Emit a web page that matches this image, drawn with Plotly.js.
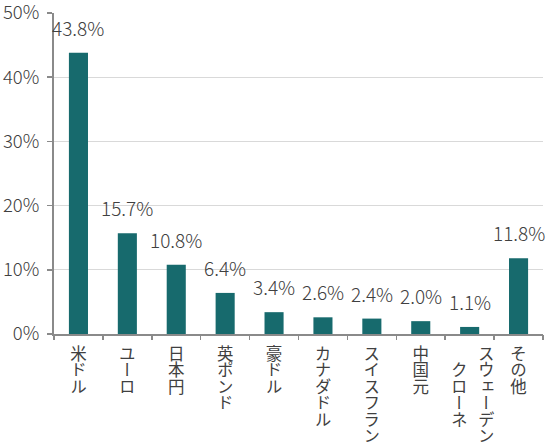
<!DOCTYPE html>
<html>
<head>
<meta charset="utf-8">
<script src="https://cdn.plot.ly/plotly-3.0.1.min.js"></script>
<style>
  html, body { margin: 0; padding: 0; background: #ffffff; }
  #chart { width: 550px; height: 445px; }
</style>
</head>
<body>
<div id="chart"></div>
<script>
// ---- data ----
const categories = ["米ドル", "ユーロ", "日本円", "英ポンド", "豪ドル", "カナダドル", "スイスフラン", "中国元", "スウェーデン<br>クローネ", "その他"];
const shares = [43.8, 15.7, 10.8, 6.4, 3.4, 2.6, 2.4, 2.0, 1.1, 11.8];
const yTickValues = [0, 10, 20, 30, 40, 50];
const yTickLabels = ["0%", "10%", "20%", "30%", "40%", "50%"];

// ---- style ----
const FONT = '"Noto Sans CJK JP", "Noto Sans", sans-serif';
const TEXT_COLOR = '#404040';
const BAR_COLOR = '#176a6d';
const AXIS_COLOR = '#8a8a8a';
const LABEL_FS = 16.5;
const LABEL_TOP = 345;

const xIdx = categories.map((c, i) => i);

const data = [{
  type: 'bar',
  x: xIdx,
  y: shares,
  marker: { color: BAR_COLOR, line: { width: 0 } },
  hoverinfo: 'none'
}];

const annotations = shares.map((v, i) => ({
  x: xIdx[i],
  y: v,
  xref: 'x',
  yref: 'y',
  text: v.toFixed(1) + '%',
  showarrow: false,
  xanchor: 'center',
  yanchor: 'bottom',
  yshift: 10,
  font: { family: FONT, size: 19, color: TEXT_COLOR, weight: 300 }
}));

const layout = {
  width: 550,
  height: 445,
  margin: { l: 54, r: 7, t: 13, b: 111, pad: 0 },
  paper_bgcolor: '#ffffff',
  plot_bgcolor: '#ffffff',
  showlegend: false,
  bargap: 0.61,
  font: { family: FONT, color: TEXT_COLOR },
  xaxis: {
    type: 'linear',
    range: [-0.5, categories.length - 0.5],
    tickmode: 'array',
    tickvals: xIdx,
    ticktext: categories,
    tickangle: 0,
    ticklabeloverflow: 'allow',
    showgrid: false,
    zeroline: false,
    showline: true,
    linecolor: AXIS_COLOR,
    linewidth: 2,
    ticks: '',
    tickfont: { family: FONT, size: LABEL_FS, color: TEXT_COLOR },
    fixedrange: true
  },
  xaxis2: {
    overlaying: 'x',
    matches: 'x',
    range: [-0.5, categories.length - 0.5],
    tickmode: 'array',
    tickvals: xIdx.map(i => i - 0.5).concat([categories.length - 0.5]),
    showticklabels: false,
    ticks: 'outside',
    ticklen: 5,
    tickwidth: 1.5,
    tickcolor: AXIS_COLOR,
    side: 'bottom',
    showgrid: false,
    zeroline: false,
    showline: false,
    anchor: 'y'
  },
  yaxis: {
    range: [0, 50],
    tickmode: 'array',
    tickvals: yTickValues,
    ticktext: yTickLabels,
    ticklabeloverflow: 'allow',
    showgrid: true,
    gridcolor: '#d9d9d9',
    gridwidth: 1,
    zeroline: false,
    showline: true,
    linecolor: AXIS_COLOR,
    linewidth: 2,
    ticks: 'outside',
    ticklen: 5,
    tickwidth: 1.5,
    tickcolor: AXIS_COLOR,
    ticklabelstandoff: 4,
    tickfont: { family: FONT, size: 18.5, color: TEXT_COLOR, weight: 300 },
    fixedrange: true
  },
  annotations: annotations
};

// invisible trace to activate the boundary tick axis
data.push({ type: 'scatter', x: [0], y: [0], xaxis: 'x2', yaxis: 'y', mode: 'markers', marker: { opacity: 0 }, hoverinfo: 'none' });

function verticalLabels() {
  const gd = document.getElementById('chart');
  gd.querySelectorAll('.xtick text').forEach(t => {
    t.setAttribute('text-anchor', 'start');
    t.setAttribute('x', 0);
    t.setAttribute('y', LABEL_TOP);
    t.style.writingMode = 'vertical-rl';
    t.style.textOrientation = 'mixed';
    const lines = Array.from(t.querySelectorAll('tspan.line'));
    if (lines.length > 1) {
      const lens = lines.map(l => l.textContent.length);
      const maxLen = Math.max(...lens);
      const gap = 27;
      const n = lines.length;
      lines.forEach((l, i) => {
        l.removeAttribute('dy');
        l.setAttribute('x', ((n - 1) / 2 - i) * gap + 3);
        l.setAttribute('y', LABEL_TOP + (maxLen - lens[i]) / 2 * LABEL_FS);
      });
    }
  });
}

Plotly.newPlot('chart', data, layout, { staticPlot: true, displayModeBar: false }).then(verticalLabels);
</script>
</body>
</html>
